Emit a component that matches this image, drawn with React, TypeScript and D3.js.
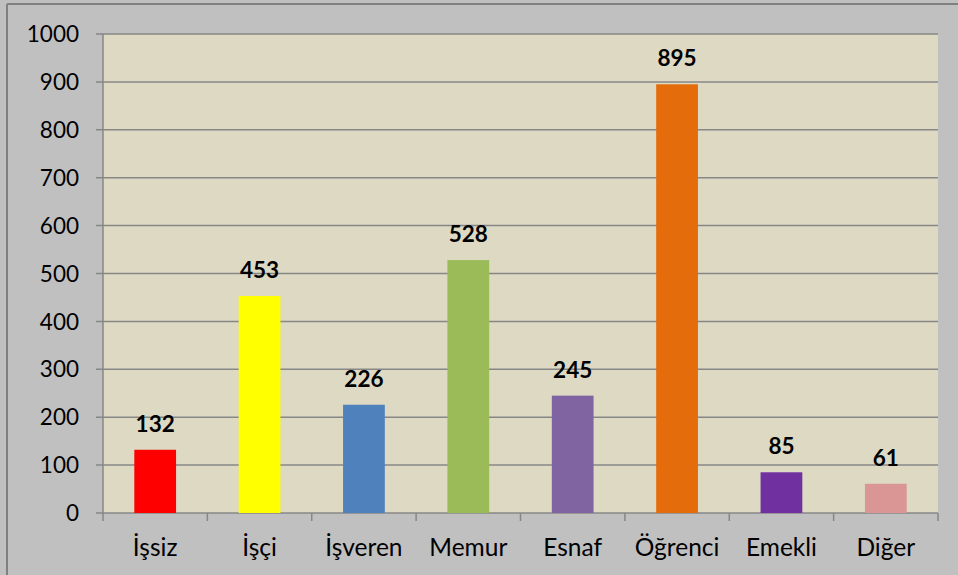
import React from "react";
import * as d3 from "d3";

const categories = ["İşsiz", "İşçi", "İşveren", "Memur", "Esnaf", "Öğrenci", "Emekli", "Diğer"];
const values = [132, 453, 226, 528, 245, 895, 85, 61];
const colors = ["#FF0000", "#FFFF00", "#4F81BD", "#9BBB59", "#8064A2", "#E46C0A", "#7030A0", "#D99694"];
const yTicks = [0, 100, 200, 300, 400, 500, 600, 700, 800, 900, 1000];

const W = 958, H = 575;
const plot = { left: 103, right: 938, top: 34, bottom: 513 };
const font = "Lato, 'Open Sans', sans-serif";

export default function App() {
  const x = d3.scaleBand<string>().domain(categories).range([plot.left, plot.right]).paddingInner(0.6).paddingOuter(0.3);
  const xb = d3.scaleBand<string>().domain(categories).range([plot.left, plot.right]);
  const y = d3.scaleLinear().domain([0, 1000]).range([plot.bottom, plot.top]);
  return (
    <svg width={W} height={H} style={{ position: "absolute", left: 0, top: 0 }}>
      <rect x={0} y={0} width={W} height={H} fill="#C0C0C0" />
      <line x1={7} x2={7} y1={4} y2={H} stroke="#808080" strokeWidth={2} />
      <line x1={7} x2={W} y1={4} y2={4} stroke="#808080" strokeWidth={2} />
      <rect x={plot.left} y={plot.top} width={plot.right - plot.left} height={plot.bottom - plot.top} fill="#DDD9C3" />
      {yTicks.map((t) => (
        <g key={t}>
          <line x1={96} x2={plot.right} y1={y(t)} y2={y(t)} stroke="#878787" strokeWidth={1.5} />
          <text x={79} y={y(t)} dy="0.36em" textAnchor="end" fontFamily={font} fontSize={22.5} fill="#000">{t}</text>
        </g>
      ))}
      <line x1={plot.left} x2={plot.left} y1={plot.top} y2={plot.bottom} stroke="#878787" strokeWidth={1.5} />
      {categories.map((c, i) => (
        <line key={"t" + i} x1={xb(c)!} x2={xb(c)!} y1={plot.bottom} y2={plot.bottom + 8} stroke="#878787" strokeWidth={1.5} />
      ))}
      <line x1={plot.right} x2={plot.right} y1={plot.bottom} y2={plot.bottom + 8} stroke="#878787" strokeWidth={1.5} />
      {categories.map((c, i) => (
        <g key={c}>
          <rect x={x(c)!} y={y(values[i])} width={x.bandwidth()} height={plot.bottom - y(values[i])} fill={colors[i]} />
          <text x={x(c)! + x.bandwidth() / 2} y={y(values[i]) - 18} textAnchor="middle" fontFamily={font} fontWeight="bold" fontSize={22.5} fill="#000">{values[i]}</text>
          <text x={xb(c)! + xb.bandwidth() / 2} y={556} textAnchor="middle" fontFamily={font} fontSize={24.5} fill="#000">{c}</text>
        </g>
      ))}
    </svg>
  );
}
